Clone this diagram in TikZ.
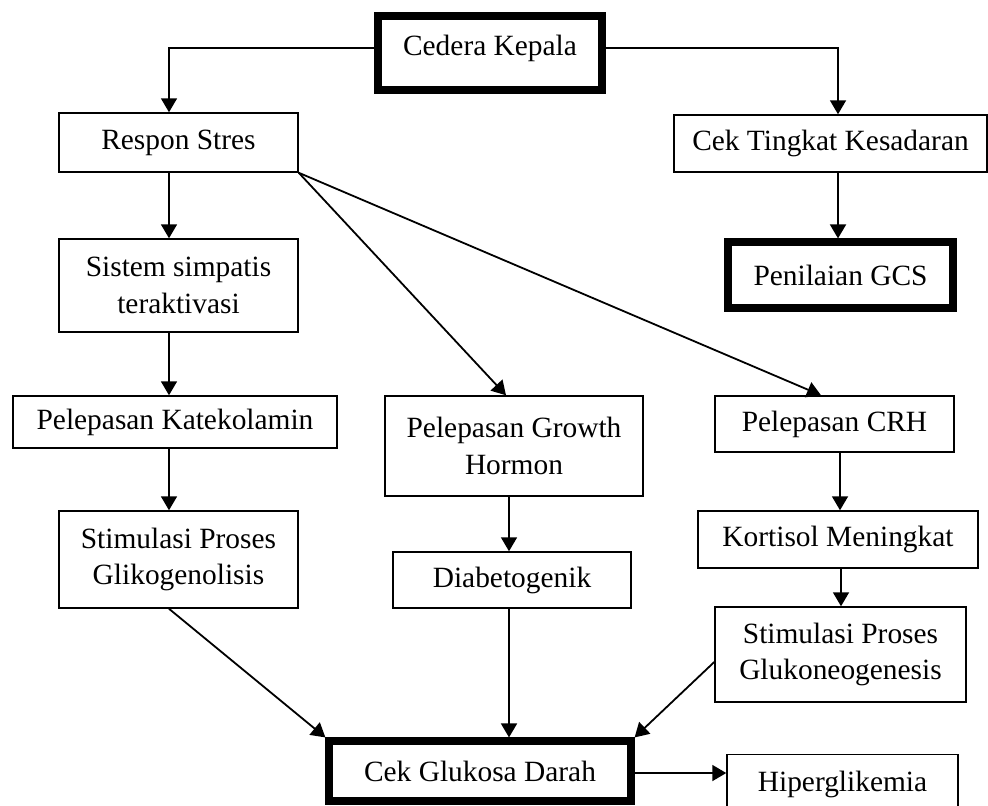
\documentclass[tikz,border=0pt]{standalone}
\usepackage{fontspec}
\setmainfont{Liberation Serif}
\usetikzlibrary{arrows.meta}
\begin{document}
\begin{tikzpicture}[x=0.5pt,y=-0.5pt,
  box/.style={draw,line width=0.75pt,align=center,inner sep=0pt,font=\fontsize{14.7}{18.4}\selectfont},
  boldbox/.style={box,line width=3.6pt},
  arr/.style={-{Triangle[length=7pt,width=8pt]},line width=0.9pt}]
\useasboundingbox (0,0) rectangle (988,805);
\node[boldbox,minimum width=112pt,minimum height=37pt,text depth=8pt] (cedera) at (490,53) {Cedera Kepala};
\node[box,minimum width=119.5pt,minimum height=29.5pt] (respon) at (178.5,142.5) {Respon Stres};
\node[box,minimum width=156.5pt,minimum height=28.5pt] (kesadaran) at (830.5,143.5) {Cek Tingkat Kesadaran};
\node[boldbox,minimum width=112.5pt,minimum height=33pt] (gcs) at (840.5,275) {Penilaian GCS};
\node[box,minimum width=119.5pt,minimum height=46.5pt] (simpatis) at (178.5,285.5) {Sistem simpatis\\teraktivasi};
\node[box,minimum width=162pt,minimum height=26pt] (katekolamin) at (175,422) {Pelepasan Katekolamin};
\node[box,minimum width=129pt,minimum height=50pt] (growth) at (514,446) {Pelepasan Growth\\Hormon};
\node[box,minimum width=119.5pt,minimum height=28pt] (crh) at (834.5,424) {Pelepasan CRH};
\node[box,minimum width=119.5pt,minimum height=48.5pt] (glikogenolisis) at (178.5,559.5) {Stimulasi Proses\\Glikogenolisis};
\node[box,minimum width=119pt,minimum height=28pt] (diabetogenik) at (512,580) {Diabetogenik};
\node[box,minimum width=140pt,minimum height=28.5pt] (kortisol) at (838,539.5) {Kortisol Meningkat};
\node[box,minimum width=125.5pt,minimum height=47.5pt] (glukoneogenesis) at (840.5,654.5) {Stimulasi Proses\\Glukoneogenesis};
\node[boldbox,minimum width=151pt,minimum height=30pt] (glukosa) at (480,771) {Cek Glukosa Darah};
\node[box,minimum width=115.5pt,minimum height=29.5pt] (hiper) at (842.5,784) {Hiperglikemia};
\draw[arr] ([yshift=2.5pt]cedera.west) -| ([xshift=-4.75pt]respon.north);
\draw[arr] ([yshift=2.5pt]cedera.east) -| ([xshift=3.75pt]kesadaran.north);
\draw[arr] ([xshift=3.75pt]kesadaran.south) -- ([xshift=3.75pt]kesadaran.south |- gcs.north);
\draw[arr] ([xshift=-4.75pt]respon.south) -- ([xshift=-4.75pt]respon.south |- simpatis.north);
\draw[arr] ([xshift=-4.75pt]simpatis.south) -- ([xshift=-4.75pt]simpatis.south |- katekolamin.north);
\draw[arr] ([xshift=-4.75pt]simpatis.south |- katekolamin.south) -- ([xshift=-4.75pt]glikogenolisis.north);
\draw[arr] (respon.south east) -- ([xshift=-4pt]growth.north);
\draw[arr] (respon.south east) -- ([xshift=-6.75pt]crh.north);
\draw[arr] ([xshift=-2.5pt]growth.south) -- ([xshift=-2.5pt]growth.south |- diabetogenik.north);
\draw[arr] ([xshift=-2.5pt]growth.south |- diabetogenik.south) -- ([xshift=-2.5pt]growth.south |- glukosa.north);
\draw[arr] ([xshift=2.75pt]crh.south) -- ([xshift=2.75pt]crh.south |- kortisol.north);
\draw[arr] ([xshift=1.5pt]kortisol.south) -- ([xshift=1.5pt]kortisol.south |- glukoneogenesis.north);
\draw[arr] ([xshift=-4.75pt]glikogenolisis.south) -- (glukosa.north west);
\draw[arr] ([yshift=-3.75pt]glukoneogenesis.west) -- (glukosa.north east);
\draw[arr] ([yshift=-1pt]glukosa.east) -- ([yshift=-1pt]glukosa.east -| hiper.west);
\end{tikzpicture}
\end{document}
